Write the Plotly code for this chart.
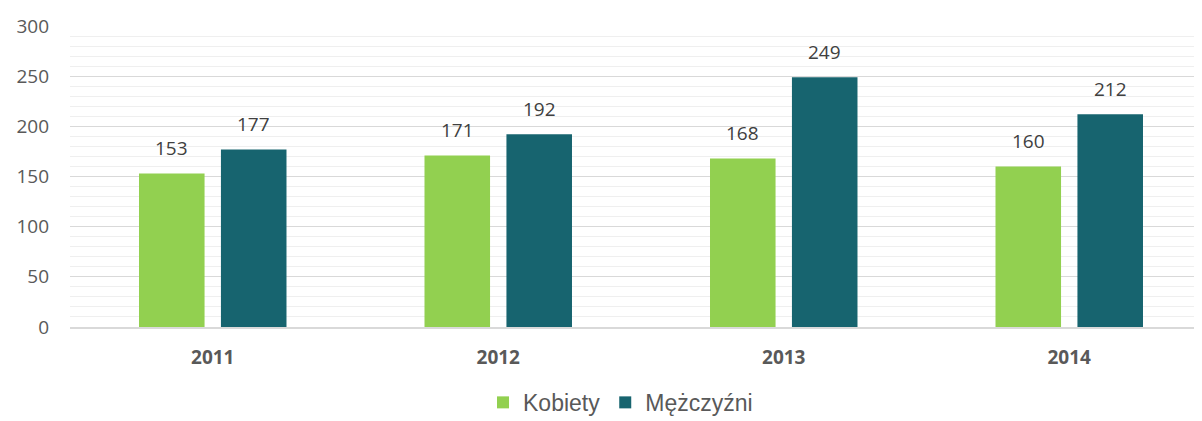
import plotly.graph_objects as go

years = ["2011", "2012", "2013", "2014"]
kobiety = [153, 171, 168, 160]
mezczyzni = [177, 192, 249, 212]
series_names = ["Kobiety", "Mężczyźni"]
colors = ["#92D050", "#17646F"]

fig = go.Figure()
for name, vals, col in zip(series_names, [kobiety, mezczyzni], colors):
    fig.add_trace(go.Bar(x=years, y=vals, name=name, marker_color=col,
                         marker_line_width=0))

annotations = []
for vals, shift in [(kobiety, -41), (mezczyzni, 41)]:
    for i, v in enumerate(vals):
        annotations.append(dict(x=i, y=v, xref="x", yref="y", text=str(v),
                                showarrow=False, xshift=shift, yshift=25,
                                yanchor="middle",
                                font=dict(family="Open Sans", size=19, color="#404040")))

fig.update_layout(
    width=1194, height=413,
    margin=dict(l=62, r=0, t=18, b=94, autoexpand=False),
    paper_bgcolor="white", plot_bgcolor="white",
    barmode="group", bargap=0.426, bargroupgap=0.2,
    annotations=annotations,
    legend=dict(orientation="h", x=0.513, xref="container", xanchor="center",
                y=0.045, yref="container", yanchor="middle",
                font=dict(family="Liberation Sans", size=23, color="#595959"),
                itemwidth=30, traceorder="normal"),
    xaxis=dict(type="category", range=[-0.5, 3.465], showgrid=False, showline=True,
               linecolor="#D9D9D9", linewidth=2, ticks="",
               tickfont=dict(family="Open Sans", size=19, color="#595959",
                             weight="bold"),
               ticklabelstandoff=12),
    yaxis=dict(range=[0, 300], dtick=50, showgrid=True, gridcolor="#D9D9D9",
               gridwidth=1, zeroline=False,
               minor=dict(dtick=10, showgrid=True, gridcolor="#EFEFEF", gridwidth=1),
               tickfont=dict(family="Open Sans", size=19, color="#595959"),
               ticklabelstandoff=20),
)

fig.write_html("out.html")
